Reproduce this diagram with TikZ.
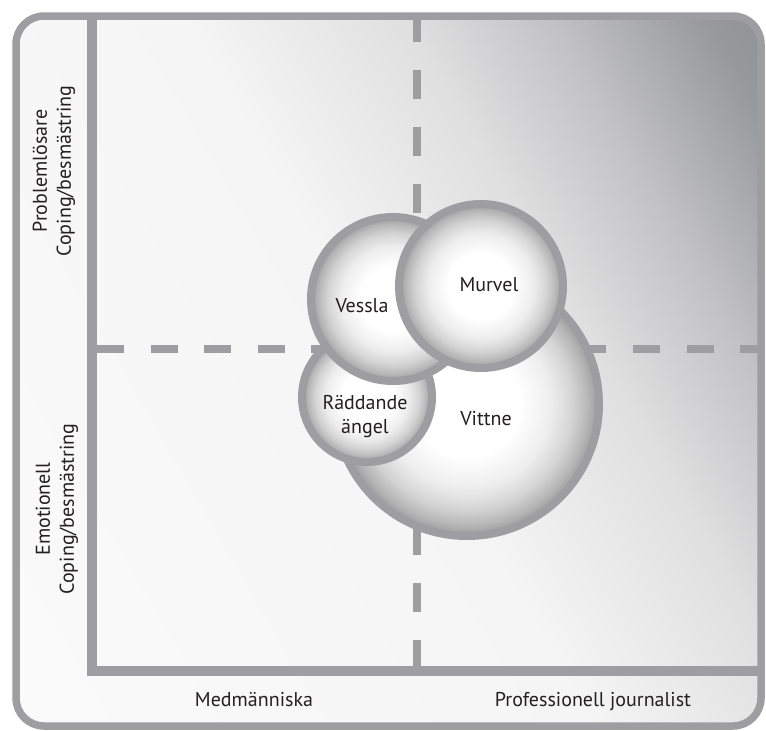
\documentclass[tikz,border=0pt]{standalone}
\usepackage{fontspec}
\setmainfont{PT Sans}
\definecolor{linegray}{RGB}{158,158,161}
\definecolor{textgray}{RGB}{35,31,32}
\definecolor{bgA}{RGB}{251,251,251}
\definecolor{bgB}{RGB}{245,245,245}
\definecolor{bgC}{RGB}{224,224,225}
\definecolor{bgD}{RGB}{194,194,196}
\definecolor{bgE}{RGB}{152,153,157}
\definecolor{bgF}{RGB}{138,139,143}

\begin{document}
\begin{tikzpicture}[x=1pt,y=-1pt,
	frame/.style={draw=linegray,line width=7.5pt,rounded corners=28pt},
	axis/.style={draw=linegray,line width=9.5pt,line join=miter},
	split/.style={draw=linegray,line width=8pt},
	bubble/.style={circle,draw=linegray,line width=8pt,shading=bubbleshade,inner sep=0pt},
	txt/.style={inner sep=0pt,text=textgray,font=\fontsize{20}{24}\selectfont}]
\pgfdeclareradialshading{bubbleshade}{\pgfpoint{0bp}{0bp}}{
	color(0bp)=(white); color(10bp)=(white); color(16bp)=(white!93!black);
	color(20bp)=(white!83!black); color(23bp)=(white!71!black); color(25bp)=(white!60!black);
	color(50bp)=(white!60!black)}
\pgfdeclarehorizontalshading{backfade}{100bp}{
	color(0bp)=(bgA); color(25bp)=(bgA); color(50bp)=(bgB); color(58.6bp)=(bgC);
	color(64.5bp)=(bgD); color(70.5bp)=(bgE); color(75bp)=(bgF); color(100bp)=(bgF)}
\useasboundingbox (0,0) rectangle (766,731);
\begin{scope}
	\clip[rounded corners=28pt] (16,16) rectangle (761,726);
	\begin{scope}[transform canvas={rotate=30}]
		\shade[shading=backfade] (-400,-50) rectangle (700,1070);
	\end{scope}
\end{scope}
\draw[split,dash pattern=on 28.5pt off 28.5pt] (416.5,13) -- (416.5,666);
\draw[split,dash pattern=on 27pt off 26.6pt] (97,349) -- (762,349);
\draw[axis] (92,16) -- (92,671) -- (762,671);
\draw[frame] (16,16) rectangle (761,726);
\node[txt,rotate=90,align=center] (problem) at (54,171) {Problemlösare\\Coping/besmästring};
\node[txt,rotate=90,align=center] (emotion) at (57,509) {Emotionell\\Coping/besmästring};
\node[txt,anchor=base] (medm) at (254,706) {Medmänniska};
\node[txt,anchor=base] (prof) at (593,706) {Professionell journalist};
\node[bubble,minimum size=264pt] (vittne) at (467,404) {};
\node[bubble,minimum size=130pt] (raddande) at (367,397) {};
\node[bubble,minimum size=164pt] (vessla) at (393,299) {};
\node[bubble,minimum size=164pt] (murvel) at (481,286) {};
\node[txt,anchor=base] (vittnetext) at (486,425) {Vittne};
\node[txt,align=center] (raddandetext) at (365,417) {Räddande\\ängel};
\node[txt,anchor=base] (vesslatext) at (362,312) {Vessla};
\node[txt,anchor=base] (murveltext) at (489,291) {Murvel};
\end{tikzpicture}
\end{document}
